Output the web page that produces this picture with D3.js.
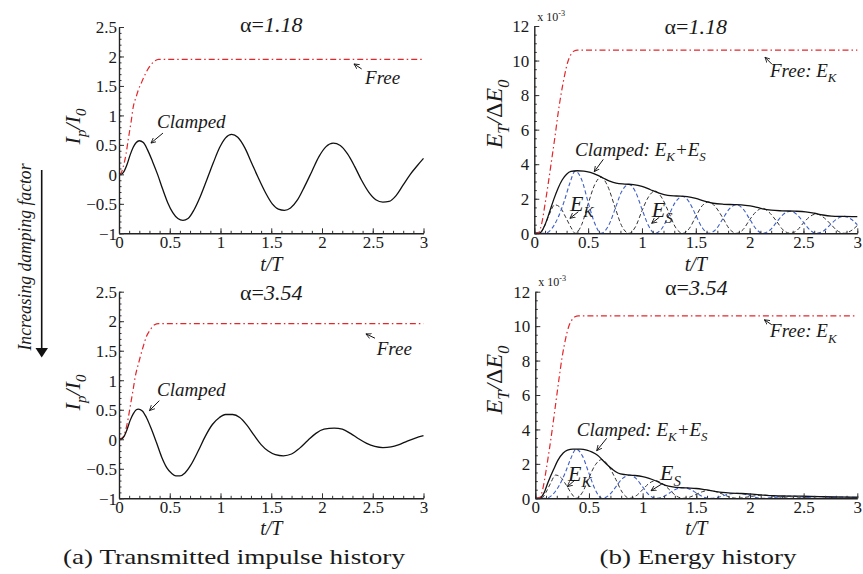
<!DOCTYPE html>
<html>
<head>
<meta charset="utf-8">
<script src="https://cdn.jsdelivr.net/npm/d3@7"></script>
<style>
  body { margin: 0; background: #fff; }
  text { font-family: 'Liberation Serif', 'Times New Roman', 'DejaVu Serif', serif; fill: #1a1a1a; }
</style>
</head>
<body>
<script>
// ---- data: [t/T, value] ----
var impulseTicks = [-1, -0.5, 0, 0.5, 1, 1.5, 2, 2.5];
var energyTicks = [0, 2, 4, 6, 8, 10, 12];
var timeTicks = [0, 0.5, 1, 1.5, 2, 2.5, 3];

// (a) alpha = 1.18
var freeImpulse1 = [[0,0],[0.02,0.02],[0.04,0.12],[0.07,0.35],[0.09,0.58],[0.12,0.9],[0.14,1.14],[0.17,1.32],[0.19,1.43],[0.22,1.55],[0.24,1.63],[0.27,1.74],[0.31,1.85],[0.35,1.92],[0.39,1.95],[3,1.95]];
var clampedImpulse1 = [[0,0],[0.02,0],[0.05,0.05],[0.08,0.17],[0.11,0.33],[0.14,0.46],[0.17,0.54],[0.2,0.57],[0.24,0.54],[0.28,0.42],[0.33,0.22],[0.38,0],[0.43,-0.25],[0.48,-0.48],[0.53,-0.65],[0.58,-0.75],[0.63,-0.78],[0.68,-0.75],[0.74,-0.6],[0.8,-0.38],[0.87,-0.07],[0.93,0.2],[0.99,0.45],[1.05,0.62],[1.11,0.68],[1.17,0.63],[1.24,0.45],[1.31,0.18],[1.37,-0.05],[1.44,-0.3],[1.51,-0.5],[1.57,-0.59],[1.63,-0.61],[1.69,-0.57],[1.76,-0.43],[1.83,-0.2],[1.9,0.05],[1.97,0.3],[2.04,0.47],[2.11,0.53],[2.18,0.49],[2.25,0.35],[2.32,0.14],[2.39,-0.1],[2.46,-0.3],[2.53,-0.43],[2.6,-0.47],[2.66,-0.46],[2.73,-0.36],[2.8,-0.18],[2.87,0],[2.94,0.15],[3,0.27]];

// (a) alpha = 3.54
var freeImpulse2 = [[0,0],[0.03,0.02],[0.06,0.12],[0.09,0.35],[0.11,0.55],[0.14,0.85],[0.16,1.06],[0.19,1.27],[0.21,1.4],[0.24,1.58],[0.27,1.74],[0.31,1.86],[0.35,1.94],[0.39,1.96],[3,1.96]];
var clampedImpulse2 = [[0,0],[0.02,0],[0.05,0.05],[0.08,0.17],[0.11,0.32],[0.14,0.43],[0.17,0.5],[0.19,0.51],[0.23,0.48],[0.27,0.37],[0.32,0.17],[0.37,-0.06],[0.42,-0.3],[0.47,-0.48],[0.52,-0.58],[0.56,-0.62],[0.6,-0.62],[0.65,-0.57],[0.71,-0.43],[0.78,-0.2],[0.85,0.05],[0.92,0.25],[0.99,0.37],[1.05,0.42],[1.12,0.42],[1.19,0.37],[1.26,0.24],[1.33,0.07],[1.4,-0.09],[1.47,-0.2],[1.54,-0.26],[1.62,-0.28],[1.7,-0.25],[1.78,-0.15],[1.86,-0.02],[1.94,0.1],[2.02,0.17],[2.12,0.19],[2.2,0.17],[2.28,0.1],[2.36,0.01],[2.44,-0.07],[2.52,-0.12],[2.6,-0.14],[2.68,-0.13],[2.76,-0.09],[2.84,-0.03],[2.92,0.02],[3,0.06]];

// (b) alpha = 1.18  (x 10^-3)
var freeEK1 = [[0,0],[0.04,0.05],[0.07,0.6],[0.1,1.7],[0.13,2.9],[0.16,4.2],[0.19,5.5],[0.22,6.9],[0.25,8.1],[0.28,9.1],[0.31,9.9],[0.34,10.35],[0.37,10.55],[0.4,10.6],[3,10.6]];
var totalE1 = [[0,0],[0.05,0.02],[0.1,0.5],[0.14,1.2],[0.18,1.95],[0.22,2.6],[0.26,3.1],[0.3,3.42],[0.34,3.58],[0.4,3.62],[0.46,3.6],[0.52,3.52],[0.58,3.38],[0.64,3.2],[0.7,3.02],[0.76,2.9],[0.84,2.85],[0.92,2.82],[1,2.72],[1.08,2.52],[1.16,2.33],[1.24,2.2],[1.32,2.16],[1.42,2.12],[1.5,2.02],[1.58,1.86],[1.66,1.74],[1.76,1.68],[1.86,1.66],[1.96,1.62],[2.04,1.55],[2.12,1.42],[2.2,1.34],[2.3,1.3],[2.42,1.28],[2.52,1.24],[2.6,1.16],[2.68,1.06],[2.76,1],[2.86,0.98],[3,0.97]];
var strainES1 = [[0,0],[0.1,0],[0.16,0.25],[0.22,0.9],[0.28,1.9],[0.33,2.9],[0.38,3.6],[0.44,3.1],[0.5,1.8],[0.56,0.6],[0.62,0],[0.69,0.45],[0.75,1.4],[0.81,2.4],[0.88,2.83],[0.94,2.4],[1,1.4],[1.06,0.45],[1.12,0],[1.19,0.32],[1.25,1.05],[1.31,1.8],[1.38,2.14],[1.44,1.8],[1.5,1.05],[1.56,0.32],[1.62,0],[1.69,0.25],[1.75,0.83],[1.81,1.4],[1.88,1.66],[1.94,1.4],[2,0.83],[2.06,0.25],[2.12,0],[2.19,0.19],[2.25,0.64],[2.31,1.08],[2.38,1.28],[2.44,1.08],[2.5,0.64],[2.56,0.19],[2.62,0],[2.69,0.15],[2.75,0.5],[2.81,0.83],[2.88,0.98],[2.94,0.83],[3,0.5]];
var kineticEK1 = [[0,0],[0.06,0.05],[0.1,0.5],[0.14,1.1],[0.19,1.65],[0.24,1.5],[0.29,0.95],[0.34,0.35],[0.38,0],[0.44,0.5],[0.5,1.7],[0.56,2.8],[0.62,3.25],[0.68,2.75],[0.75,1.5],[0.81,0.45],[0.88,0],[0.94,0.38],[1,1.3],[1.06,2.1],[1.12,2.45],[1.18,2.1],[1.25,1.2],[1.31,0.36],[1.38,0],[1.44,0.28],[1.5,0.97],[1.56,1.6],[1.62,1.82],[1.68,1.55],[1.75,0.9],[1.81,0.27],[1.88,0],[1.94,0.22],[2,0.78],[2.06,1.25],[2.12,1.45],[2.18,1.22],[2.25,0.7],[2.31,0.2],[2.38,0],[2.44,0.17],[2.5,0.6],[2.56,0.97],[2.62,1.12],[2.68,0.95],[2.75,0.55],[2.81,0.17],[2.88,0],[2.94,0.14],[3,0.45]];

// (b) alpha = 3.54  (x 10^-3)
var freeEK2 = [[0,0],[0.04,0.05],[0.07,0.55],[0.1,1.6],[0.13,2.8],[0.16,4.1],[0.19,5.5],[0.22,6.9],[0.25,8.2],[0.28,9.2],[0.31,9.95],[0.34,10.35],[0.37,10.55],[0.4,10.6],[3,10.6]];
var totalE2 = [[0,0],[0.04,0],[0.08,0.3],[0.12,0.95],[0.17,1.67],[0.21,2.2],[0.26,2.63],[0.3,2.8],[0.35,2.86],[0.42,2.86],[0.48,2.8],[0.53,2.68],[0.58,2.5],[0.63,2.2],[0.67,1.95],[0.72,1.68],[0.77,1.47],[0.84,1.37],[0.92,1.33],[1,1.26],[1.06,1.16],[1.12,1.02],[1.18,0.84],[1.24,0.7],[1.32,0.63],[1.42,0.6],[1.5,0.57],[1.58,0.5],[1.66,0.42],[1.74,0.34],[1.82,0.3],[1.92,0.28],[2.02,0.24],[2.12,0.19],[2.22,0.15],[2.35,0.13],[2.5,0.12],[2.65,0.1],[2.8,0.08],[3,0.07]];
var strainES2 = [[0,0],[0.1,0],[0.16,0.2],[0.22,0.72],[0.28,1.5],[0.33,2.3],[0.38,2.86],[0.44,2.45],[0.5,1.45],[0.56,0.48],[0.62,0],[0.69,0.2],[0.75,0.66],[0.81,1.14],[0.88,1.34],[0.94,1.14],[1,0.66],[1.06,0.2],[1.12,0],[1.19,0.09],[1.25,0.31],[1.31,0.53],[1.38,0.62],[1.44,0.53],[1.5,0.31],[1.56,0.09],[1.62,0],[1.69,0.04],[1.75,0.15],[1.81,0.25],[1.88,0.29],[1.94,0.25],[2,0.15],[2.06,0.04],[2.12,0],[2.25,0.07],[2.38,0.13],[2.5,0.07],[2.62,0],[2.75,0.035],[2.88,0.07],[3,0.035]];
var kineticEK2 = [[0,0],[0.06,0.02],[0.1,0.35],[0.14,0.85],[0.19,1.35],[0.24,1.2],[0.29,0.75],[0.34,0.25],[0.38,0],[0.44,0.35],[0.5,1.2],[0.56,1.95],[0.62,2.25],[0.68,1.9],[0.75,1.1],[0.81,0.35],[0.88,0],[0.94,0.15],[1,0.5],[1.06,0.87],[1.12,1.02],[1.18,0.87],[1.25,0.5],[1.31,0.15],[1.38,0],[1.44,0.07],[1.5,0.23],[1.56,0.39],[1.62,0.46],[1.68,0.39],[1.75,0.23],[1.81,0.07],[1.88,0],[2,0.1],[2.12,0.19],[2.25,0.1],[2.38,0],[2.5,0.05],[2.62,0.1],[2.75,0.05],[2.88,0],[3,0.04]];

var W = 863, H = 574;
var svg = d3.select("body").append("svg").attr("width", W).attr("height", H);

// arrow head used by the annotations
svg.append("defs").append("marker")
  .attr("id", "ah").attr("viewBox", "0 0 8 8").attr("refX", 7).attr("refY", 4)
  .attr("markerWidth", 6).attr("markerHeight", 6).attr("orient", "auto")
  .append("path").attr("d", "M0,0.6 L7,4 L0,7.4").attr("fill", "none").attr("stroke", "#111").attr("stroke-width", 1.1);

var fmt = function (d) { return d3.format("")(d); };
var line = function (x, y) {
  return d3.line().x(function (d) { return x(d[0]); }).y(function (d) { return y(d[1]); }).curve(d3.curveMonotoneX);
};

var RED = "#e4262b", BLUE = "#3f5fc6";

// panel layout
var panels = [
  { px: [119, 423.5], py: [233.3, 27], ydom: [-1, 2.5], yTicks: impulseTicks, yMinor: 0.1, title: "1.18", titleY: 31.5, kind: "I",
    ylab: [80, 126.5], xlab: 271, yPad: 2,
    series: [{ d: freeImpulse1, c: RED, dash: "6,3,1.5,3", w: 1.2 }, { d: clampedImpulse1, c: "#111", dash: null, w: 1.3 }],
    notes: [
      { parts: [["Clamped"]], at: [0.374, 0.786], arrow: [0.433, 0.70, 0.315, 0.531] },
      { parts: [["Free"]], at: [2.424, 1.533], arrow: [2.391, 1.788, 2.315, 1.873] }
    ] },
  { px: [119, 423.5], py: [498.3, 291.7], ydom: [-1, 2.5], yTicks: impulseTicks, yMinor: 0.1, title: "3.54", titleY: 300, kind: "I",
    ylab: [80, 392.5], xlab: 535, yPad: 2,
    series: [{ d: freeImpulse2, c: RED, dash: "6,3,1.5,3", w: 1.2 }, { d: clampedImpulse2, c: "#111", dash: null, w: 1.3 }],
    notes: [
      { parts: [["Clamped"]], at: [0.374, 0.725], arrow: [0.397, 0.654, 0.30, 0.485] },
      { parts: [["Free"]], at: [2.539, 1.429], arrow: [2.522, 1.712, 2.433, 1.785] }
    ] },
  { px: [534.3, 857.3], py: [233.3, 26], ydom: [0, 12], yTicks: energyTicks, yMinor: 0.5, title: "1.18", titleY: 34, kind: "E",
    ylab: [502, 114], xlab: 271, expY: 21, yPad: 5,
    series: [{ d: kineticEK1, c: "#333", dash: "4,2.5", w: 1 }, { d: strainES1, c: BLUE, dash: "4,2.5", w: 1.1 },
             { d: totalE1, c: "#111", dash: null, w: 1.3 }, { d: freeEK1, c: RED, dash: "6,3,1.5,3", w: 1.2 }],
    notes: [
      { parts: [["Free: E"], ["K", "sub"]], at: [2.189, 9.05], arrow: [2.205, 9.8, 2.143, 10.19] },
      { parts: [["Clamped: E"], ["K", "sub"], ["+E"], ["S", "sub"]], at: [0.378, 4.475], arrow: [0.641, 4.28, 0.557, 3.566] },
      { parts: [["E"], ["K", "sub"]], at: [0.331, 1.31], arrow: [0.409, 1.25, 0.331, 0.868], big: true },
      { parts: [["E"], ["S", "sub"]], at: [1.09, 0.96], arrow: [1.161, 0.926, 1.09, 0.579], big: true }
    ] },
  { px: [535.3, 857.3], py: [498.3, 291.7], ydom: [0, 12], yTicks: energyTicks, yMinor: 0.5, title: "3.54", titleY: 295, kind: "E",
    ylab: [502, 380], xlab: 535, expY: 286, yPad: 5,
    series: [{ d: kineticEK2, c: "#333", dash: "4,2.5", w: 1 }, { d: strainES2, c: BLUE, dash: "4,2.5", w: 1.1 },
             { d: totalE2, c: "#111", dash: null, w: 1.3 }, { d: freeEK2, c: RED, dash: "6,3,1.5,3", w: 1.2 }],
    notes: [
      { parts: [["Free: E"], ["K", "sub"]], at: [2.187, 9.35], arrow: [2.203, 10.08, 2.134, 10.37] },
      { parts: [["Clamped: E"], ["K", "sub"], ["+E"], ["S", "sub"]], at: [0.386, 3.636], arrow: [0.665, 3.485, 0.572, 2.765] },
      { parts: [["E"], ["K", "sub"]], at: [0.305, 1.022], arrow: [0.37, 1.063, 0.298, 0.674], big: true },
      { parts: [["E"], ["S", "sub"]], at: [1.162, 1.063], arrow: [1.178, 0.83, 1.078, 0.441], big: true }
    ] }
];

// write text made of normal / subscript / superscript pieces
function richText(sel, parts, size) {
  var shift = 0;
  parts.forEach(function (p) {
    var want = p[1] === "sub" ? size * 0.28 : p[1] === "sup" ? -size * 0.38 : 0;
    var t = sel.append("tspan").text(p[0]).attr("dy", want - shift);
    if (p[1]) t.attr("font-size", size * 0.68);
    if (p[2]) t.attr("font-style", p[2]);
    shift = want;
  });
}

panels.forEach(function (p) {
  var x = d3.scaleLinear().domain([0, 3]).range(p.px);
  var y = d3.scaleLinear().domain(p.ydom).range(p.py);
  var g = svg.append("g");

  // curves
  p.series.forEach(function (s) {
    g.append("path").datum(s.d).attr("d", line(x, y))
      .attr("fill", "none").attr("stroke", s.c).attr("stroke-width", s.w)
      .attr("stroke-dasharray", s.dash);
  });

  // minor ticks
  var xMinor = d3.range(0, 3.0001, 0.1).map(function (v) { return +v.toFixed(2); });
  var yMinor = d3.range(p.ydom[0], p.ydom[1] + 1e-6, p.yMinor).map(function (v) { return +v.toFixed(2); });
  g.append("g").attr("transform", "translate(0," + p.py[0] + ")")
    .call(d3.axisBottom(x).tickValues(xMinor).tickSize(-2.5).tickSizeOuter(0).tickFormat(""))
    .call(function (a) { a.select(".domain").remove(); });
  g.append("g").attr("transform", "translate(" + p.px[0] + ",0)")
    .call(d3.axisLeft(y).tickValues(yMinor).tickSize(-2.5).tickSizeOuter(0).tickFormat(""))
    .call(function (a) { a.select(".domain").remove(); });

  // major axes
  var ax = g.append("g").attr("transform", "translate(0," + p.py[0] + ")")
    .call(d3.axisBottom(x).tickValues(timeTicks).tickFormat(fmt).tickSize(-5).tickSizeOuter(0).tickPadding(3));
  var ay = g.append("g").attr("transform", "translate(" + p.px[0] + ",0)")
    .call(d3.axisLeft(y).tickValues(p.yTicks).tickFormat(fmt).tickSize(-5).tickSizeOuter(0).tickPadding(p.yPad));
  g.selectAll(".domain").attr("stroke", "#222").attr("stroke-width", 1.4);
  g.selectAll(".tick line").attr("stroke", "#333").attr("stroke-width", 1);
  [ax, ay].forEach(function (a) {
    a.selectAll("text").attr("font-size", 17).attr("fill", "#1a1a1a");
  });
  ay.selectAll("text").attr("dy", "0.34em");

  // title
  var cx = (p.px[0] + p.px[1]) / 2;
  var tt = g.append("text").attr("x", cx).attr("y", p.titleY).attr("text-anchor", "middle").attr("font-size", 22);
  tt.append("tspan").text("α=");
  tt.append("tspan").text(p.title).attr("font-style", "italic");

  // x label
  g.append("text").attr("x", cx).attr("y", p.xlab).attr("text-anchor", "middle")
    .attr("font-size", 20).attr("font-style", "italic").text("t/T");

  // y label
  var yl = g.append("text").attr("transform", "translate(" + p.ylab[0] + "," + p.ylab[1] + ") rotate(-90)")
    .attr("text-anchor", "middle").attr("font-style", "italic");
  if (p.kind === "I") {
    yl.attr("font-size", 22);
    richText(yl, [["I"], ["p", "sub"], ["/I"], ["0", "sub"]], 22);
  } else {
    yl.attr("font-size", 24);
    richText(yl, [["E"], ["T", "sub"], ["/"], ["Δ", null, "normal"], ["E"], ["0", "sub"]], 24);
  }

  // x 10^-3 multiplier
  if (p.expY) {
    var ex = g.append("text").attr("x", p.px[0] + 3).attr("y", p.expY).attr("font-size", 12);
    richText(ex, [["x 10"], ["-3", "sup"]], 12);
  }

  // annotations
  p.notes.forEach(function (n) {
    var t = g.append("text").attr("x", x(n.at[0])).attr("y", y(n.at[1]))
      .attr("font-style", "italic").attr("font-size", n.big ? 22 : 19);
    richText(t, n.parts, n.big ? 22 : 19);
    g.append("line")
      .attr("x1", x(n.arrow[0])).attr("y1", y(n.arrow[1]))
      .attr("x2", x(n.arrow[2])).attr("y2", y(n.arrow[3]))
      .attr("stroke", "#111").attr("stroke-width", 1).attr("marker-end", "url(#ah)");
  });
});

// side note with arrow
svg.append("text").attr("transform", "translate(31,257) rotate(-90)")
  .attr("text-anchor", "middle").attr("font-size", 19).attr("font-style", "italic")
  .attr("textLength", 187).attr("lengthAdjust", "spacingAndGlyphs")
  .text("Increasing damping factor");
svg.append("line").attr("x1", 41.7).attr("y1", 170).attr("x2", 41.7).attr("y2", 350)
  .attr("stroke", "#111").attr("stroke-width", 1.6);
svg.append("path").attr("d", "M35.5,348 L48,348 L41.7,357.5 Z").attr("fill", "#111");

// captions
svg.append("text").attr("x", 234).attr("y", 564).attr("text-anchor", "middle")
  .attr("font-size", 22).attr("textLength", 342).attr("lengthAdjust", "spacingAndGlyphs")
  .text("(a) Transmitted impulse history");
svg.append("text").attr("x", 698).attr("y", 564).attr("text-anchor", "middle")
  .attr("font-size", 22).attr("textLength", 197).attr("lengthAdjust", "spacingAndGlyphs")
  .text("(b) Energy history");
</script>
</body>
</html>
